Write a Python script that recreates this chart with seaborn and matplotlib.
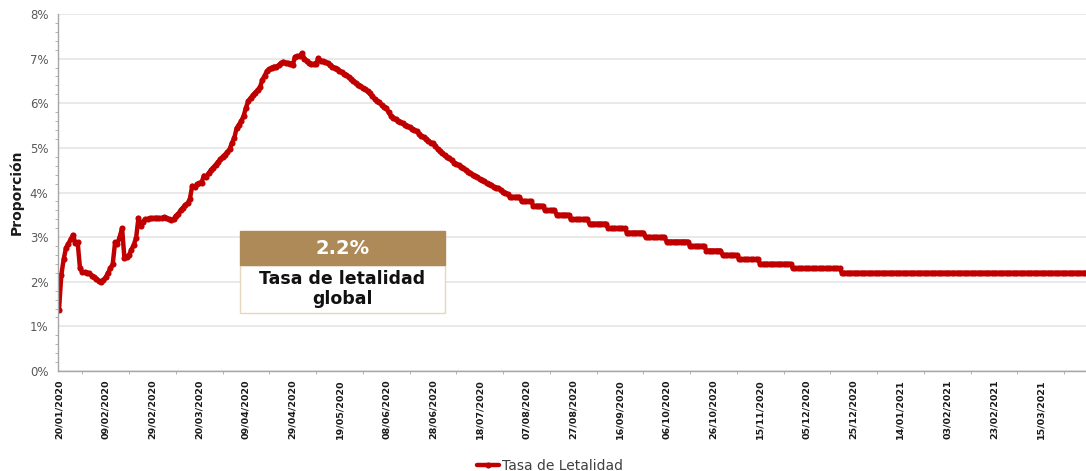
import numpy as np
import pandas as pd
import matplotlib
matplotlib.use("Agg")
import matplotlib.pyplot as plt
import matplotlib.dates as mdates
from matplotlib.ticker import MultipleLocator, PercentFormatter
from matplotlib.patches import Rectangle
import seaborn as sns

start_date = "2020-01-20"

# tasa de letalidad diaria (%), del 20/01/2020 en adelante
daily_rate = [
    1.37, 2.15, 2.50, 2.76, 2.85, 2.95, 3.05, 2.87, 2.88, 2.30,
    2.22, 2.21, 2.20, 2.19, 2.14, 2.10, 2.07, 2.02, 2.00, 2.04,
    2.10, 2.20, 2.30, 2.40, 2.88, 2.85, 3.01, 3.20, 2.53, 2.56,
    2.60, 2.72, 2.83, 2.98, 3.43, 3.24, 3.35, 3.40, 3.41, 3.42,
    3.42, 3.43, 3.43, 3.42, 3.43, 3.44, 3.43, 3.40, 3.38, 3.40,
    3.48, 3.52, 3.60, 3.66, 3.72, 3.76, 3.85, 4.15, 4.12, 4.18,
    4.21, 4.22, 4.38, 4.35, 4.43, 4.50, 4.56, 4.62, 4.68, 4.74,
    4.80, 4.85, 4.90, 4.97, 5.11, 5.22, 5.44, 5.52, 5.60, 5.72,
    5.90, 6.05, 6.12, 6.18, 6.24, 6.30, 6.36, 6.52, 6.62, 6.72,
    6.76, 6.80, 6.82, 6.82, 6.85, 6.90, 6.93, 6.91, 6.90, 6.89,
    6.86, 7.04, 7.05, 7.06, 7.12, 7.00, 6.95, 6.90, 6.88, 6.88,
    6.89, 7.01, 6.95, 6.94, 6.92, 6.90, 6.86, 6.82, 6.79, 6.77,
    6.73, 6.70, 6.66, 6.63, 6.59, 6.55, 6.50, 6.46, 6.42, 6.38,
    6.35, 6.31, 6.27, 6.22, 6.16, 6.10, 6.06, 6.02, 5.97, 5.92,
    5.89, 5.80, 5.72, 5.68, 5.64, 5.60, 5.58, 5.55, 5.52, 5.49,
    5.46, 5.43, 5.40, 5.37, 5.32, 5.27, 5.24, 5.20, 5.16, 5.12,
    5.10, 5.05, 4.97, 4.92, 4.88, 4.83, 4.79, 4.77, 4.72, 4.67,
    4.63, 4.61, 4.58, 4.54, 4.51, 4.47, 4.43, 4.40, 4.37, 4.34,
    4.30, 4.28, 4.25, 4.21, 4.19, 4.16, 4.13, 4.11, 4.10, 4.06,
    4.02, 3.99, 3.96,
]

# a partir de agosto la serie baja en escalones de 0.1 puntos
step_rate = [3.9, 3.8, 3.7, 3.6, 3.5, 3.4, 3.3, 3.2, 3.1, 3.0,
             2.9, 2.8, 2.7, 2.6, 2.5, 2.4, 2.3, 2.2]
step_days = [5, 5, 5, 5, 6, 8, 8, 8, 8, 9,
             10, 7, 7, 7, 9, 14, 21, 106]

global_rate = "2.2%"
box_label = "Tasa de letalidad\nglobal"
series_name = "Tasa de Letalidad"

rate = daily_rate + [float(v) for v in np.repeat(step_rate, step_days)]
df = pd.DataFrame({
    "Fecha": pd.date_range(start_date, periods=len(rate), freq="D"),
    series_name: rate,
})

sns.set_style("white")
plt.rcParams["font.family"] = ["DejaVu Sans"]

fig = plt.figure(figsize=(10.86, 4.71), dpi=100)
ax = fig.add_axes([58 / 1086, 1 - 371 / 471, 1 - 58 / 1086, (371 - 14) / 471])

red = "#C00000"
sns.lineplot(data=df, x="Fecha", y=series_name, color=red, lw=3.2,
             marker="o", markersize=4.4, markeredgewidth=0,
             label=series_name, legend=False, ax=ax)

t0 = pd.Timestamp(start_date)
ax.set_xticks(pd.date_range(start_date, periods=23, freq="20D"))
ax.set_xticks(pd.date_range(t0 + pd.Timedelta(days=10), periods=22, freq="20D"), minor=True)
# set_xticks can widen the view, so the limits go after it
ax.set_xlim(t0 - pd.Timedelta(hours=10), t0 + pd.Timedelta(days=439.4))
ax.set_ylim(0, 8)

ax.xaxis.set_major_formatter(mdates.DateFormatter("%d/%m/%Y"))
ax.yaxis.set_major_locator(MultipleLocator(1))
ax.yaxis.set_minor_locator(MultipleLocator(0.2))
ax.yaxis.set_major_formatter(PercentFormatter(100, decimals=0))

gray = "#A6A6A6"
ax.grid(axis="y", color="#E3E3E3", lw=1.1)
ax.grid(axis="x", visible=False)
for side in ["top", "right"]:
    ax.spines[side].set_visible(False)
for side in ["left", "bottom"]:
    ax.spines[side].set_color(gray)
    ax.spines[side].set_linewidth(1)

ax.tick_params(axis="y", which="major", direction="out", length=4, color=gray,
               labelsize=8.5, labelcolor="#595959", pad=3)
ax.tick_params(axis="y", which="minor", direction="out", length=2.5, color=gray, left=True)
ax.tick_params(axis="x", which="major", direction="inout", length=6, color=gray,
               labelsize=6.8, labelcolor="#1a1a1a", labelrotation=90, pad=3)
ax.tick_params(axis="x", which="minor", direction="out", length=2.5, color=gray, bottom=True)
for lbl in ax.get_xticklabels():
    lbl.set_fontweight("bold")

ax.set_xlabel("")
ax.set_ylabel("Proporción", fontsize=10, fontweight="bold", color="#1a1a1a", labelpad=4)

# recuadro con la tasa global
bx, bw = 240 / 1086, 205 / 1086
brown_y0, brown_h = 1 - 265 / 471, 34 / 471
white_y0, white_h = 1 - 313 / 471, 48 / 471
fig.patches.append(Rectangle((bx, white_y0), bw, white_h, transform=fig.transFigure,
                             facecolor="white", edgecolor="#E6D6BC", lw=1, zorder=5))
fig.patches.append(Rectangle((bx, brown_y0), bw, brown_h, transform=fig.transFigure,
                             facecolor="#AD8A58", edgecolor="#AD8A58", lw=1, zorder=5))
fig.text(bx + bw / 2, brown_y0 + brown_h / 2, global_rate, ha="center", va="center",
         color="white", fontsize=14, fontweight="bold", zorder=6)
fig.text(bx + bw / 2, white_y0 + white_h / 2, box_label, ha="center", va="center",
         color="#111111", fontsize=12.5, fontweight="bold", linespacing=1.15, zorder=6)

handles, labels = ax.get_legend_handles_labels()
fig.legend(handles, labels, loc="center", bbox_to_anchor=(550 / 1086, 1 - 466 / 471),
           frameon=False, fontsize=10, handlelength=1.6, handletextpad=0.2,
           labelcolor="#404040")

fig.savefig("out.png", dpi=100)
